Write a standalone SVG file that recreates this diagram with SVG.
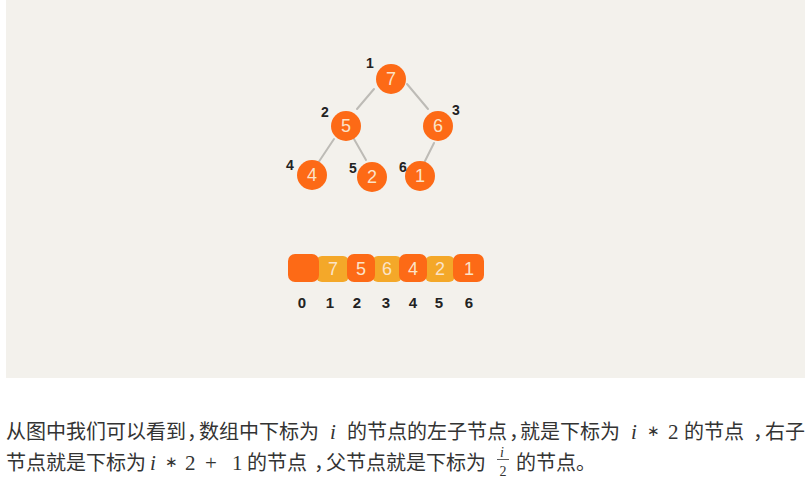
<svg xmlns="http://www.w3.org/2000/svg" width="812" height="493" viewBox="0 0 812 493">
<style>
.node{fill:#fd6a16}
.cellO{fill:#fd6a16}
.cellY{fill:#f4a829}
.nd{font-family:"Liberation Sans","DejaVu Sans",sans-serif;font-size:18px;fill:#fbe3c8;text-anchor:middle}
.lbl{font-family:"Liberation Sans","DejaVu Sans",sans-serif;font-size:14px;font-weight:bold;fill:#222;text-anchor:middle}
.idx{font-family:"Liberation Sans","DejaVu Sans",sans-serif;font-size:15px;font-weight:bold;fill:#222;text-anchor:middle}
.edge{stroke:#bdbbb6;stroke-width:2;stroke-linecap:round}
.t{font-family:"Noto Sans CJK SC","Noto Sans",sans-serif;font-size:20px;fill:#333}
.m{font-family:"Liberation Serif","DejaVu Serif",serif;font-size:21px;font-style:normal}
.mi{font-family:"Liberation Serif","DejaVu Serif",serif;font-size:21px;font-style:italic}
.op{font-family:"DejaVu Sans",sans-serif;font-size:15px}
.c{letter-spacing:-9px}
</style>
<rect x="6" y="0" width="799" height="378" fill="#f3f1ec"/>
<g id="connectors">
<line class="edge" x1="374" y1="89" x2="357" y2="109"/>
<line class="edge" x1="407" y1="84" x2="428" y2="109"/>
<line class="edge" x1="334" y1="139" x2="318" y2="163"/>
<line class="edge" x1="354" y1="139" x2="366" y2="160"/>
<line class="edge" x1="434" y1="143" x2="424" y2="163"/>
</g>
<g id="n7"><circle class="node" cx="391" cy="79" r="15"/><text class="nd" x="391" y="85">7</text><text class="lbl" x="370" y="68">1</text></g>
<g id="n5"><circle class="node" cx="346" cy="126" r="15"/><text class="nd" x="346" y="132">5</text><text class="lbl" x="325" y="117">2</text></g>
<g id="n6"><circle class="node" cx="438" cy="126" r="15"/><text class="nd" x="438" y="132">6</text><text class="lbl" x="456" y="115">3</text></g>
<g id="n4"><circle class="node" cx="312" cy="175" r="15"/><text class="nd" x="312" y="181">4</text><text class="lbl" x="290" y="170">4</text></g>
<g id="n2"><circle class="node" cx="372" cy="177" r="15"/><text class="nd" x="372" y="183">2</text><text class="lbl" x="353" y="173">5</text></g>
<g id="n1"><circle class="node" cx="420" cy="176" r="15"/><text class="nd" x="420" y="182">1</text><text class="lbl" x="403" y="172">6</text></g>
<g id="array">
<rect class="cellY" x="316" y="256" width="33" height="26" rx="6"/>
<rect class="cellY" x="372" y="256" width="30" height="26" rx="6"/>
<rect class="cellY" x="425" y="256" width="30" height="26" rx="6"/>
<rect class="cellO" x="288" y="254" width="31" height="28" rx="7"/>
<rect class="cellO" x="347" y="254" width="28" height="28" rx="7"/>
<rect class="cellO" x="399" y="254" width="28" height="28" rx="7"/>
<rect class="cellO" x="453" y="254" width="31" height="28" rx="7"/>
<text class="nd" x="333" y="275">7</text>
<text class="nd" x="361" y="275">5</text>
<text class="nd" x="387" y="275">6</text>
<text class="nd" x="413" y="275">4</text>
<text class="nd" x="440" y="275">2</text>
<text class="nd" x="469" y="275">1</text>
<text class="idx" x="302" y="308">0</text>
<text class="idx" x="330" y="308">1</text>
<text class="idx" x="357" y="308">2</text>
<text class="idx" x="386" y="308">3</text>
<text class="idx" x="413" y="308">4</text>
<text class="idx" x="439" y="308">5</text>
<text class="idx" x="469" y="308">6</text>
</g>
<g id="caption">
<text class="t" y="439"><tspan x="6">从图中我们可以看到</tspan><tspan class="c" x="187">，</tspan><tspan x="199">数组中下标为</tspan><tspan class="mi" x="330">i</tspan><tspan x="347">的节点的左子节点</tspan><tspan class="c" x="509">，</tspan><tspan x="520">就是下标为</tspan><tspan class="mi" x="631">i</tspan><tspan class="op" x="647" y="436">∗</tspan><tspan class="m" x="668" y="439">2</tspan><tspan x="684">的节点</tspan><tspan class="c" x="753">，</tspan><tspan x="765">右子</tspan></text>
<text class="t" y="470"><tspan x="6">节点就是下标为</tspan><tspan class="mi" x="150">i</tspan><tspan class="op" x="165" y="467">∗</tspan><tspan class="m" x="185" y="470">2</tspan><tspan class="m" x="205">+</tspan><tspan class="m" x="232">1</tspan><tspan x="247">的节点</tspan><tspan class="c" x="314">，</tspan><tspan x="326">父节点就是下标为</tspan><tspan x="516">的节点。</tspan></text>
<text class="mi" x="500" y="457" style="font-size:14px;fill:#333">i</text>
<line x1="497" y1="459.5" x2="509" y2="459.5" stroke="#333" stroke-width="0.8"/>
<text class="m" x="499.5" y="476" style="font-size:14px;fill:#333">2</text>
</g>
</svg>
